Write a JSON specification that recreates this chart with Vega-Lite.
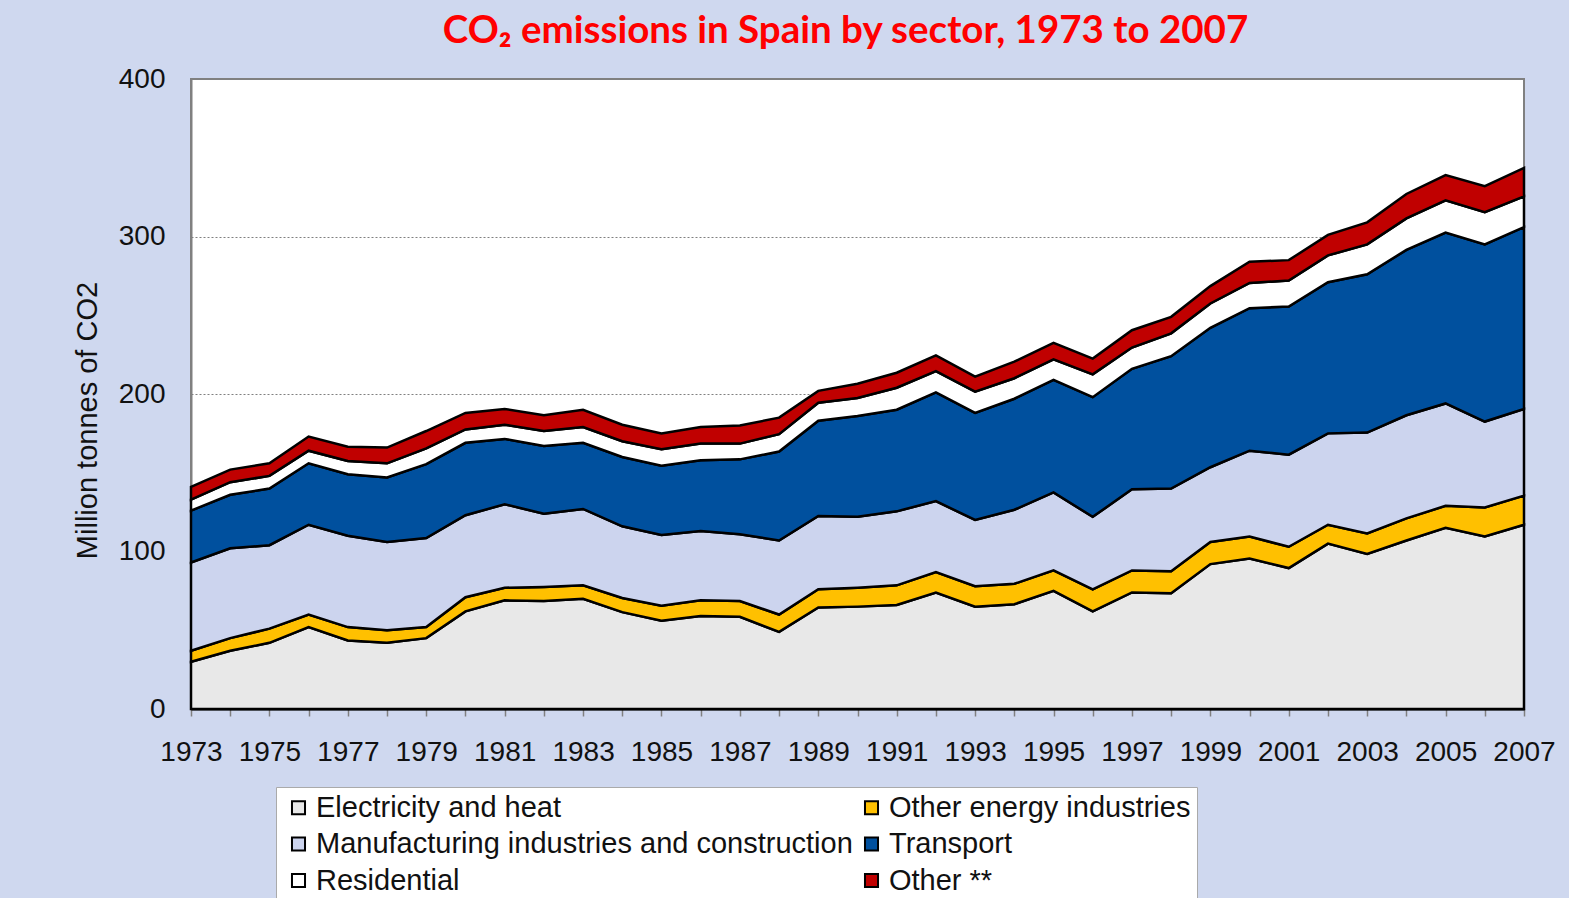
{
  "$schema": "https://vega.github.io/schema/vega-lite/v6.json",
  "autosize": {"type": "none"},
  "width": 1333,
  "height": 630,
  "padding": {"left": 191, "top": 79, "right": 45, "bottom": 189},
  "background": "#cfd8ef",
  "title": {
    "text": "CO₂ emissions in Spain by sector,  1973 to 2007",
    "font": "Lato",
    "fontSize": 38.5,
    "fontWeight": "bold",
    "color": "#ff0000",
    "anchor": "middle",
    "frame": "group",
    "baseline": "alphabetic",
    "offset": 20,
    "dx": -12,
    "dy": 36
  },
  "data": {
    "values": [
      {"year": 1973, "Electricity and heat": 30, "Other energy industries": 7, "Manufacturing industries and construction": 56, "Transport": 33, "Residential": 7, "Other **": 8},
      {"year": 1974, "Electricity and heat": 37, "Other energy industries": 8, "Manufacturing industries and construction": 57, "Transport": 34, "Residential": 8, "Other **": 8},
      {"year": 1975, "Electricity and heat": 42, "Other energy industries": 9, "Manufacturing industries and construction": 53, "Transport": 36, "Residential": 8, "Other **": 8},
      {"year": 1976, "Electricity and heat": 52, "Other energy industries": 8, "Manufacturing industries and construction": 57, "Transport": 39, "Residential": 8, "Other **": 9},
      {"year": 1977, "Electricity and heat": 43.5, "Other energy industries": 8.5, "Manufacturing industries and construction": 58, "Transport": 39, "Residential": 8.5, "Other **": 9},
      {"year": 1978, "Electricity and heat": 42, "Other energy industries": 8, "Manufacturing industries and construction": 56, "Transport": 41, "Residential": 9, "Other **": 10},
      {"year": 1979, "Electricity and heat": 45, "Other energy industries": 7, "Manufacturing industries and construction": 56.5, "Transport": 47, "Residential": 10, "Other **": 11},
      {"year": 1980, "Electricity and heat": 62, "Other energy industries": 9, "Manufacturing industries and construction": 52, "Transport": 46, "Residential": 8.5, "Other **": 10.5},
      {"year": 1981, "Electricity and heat": 69, "Other energy industries": 8, "Manufacturing industries and construction": 53, "Transport": 41.5, "Residential": 9, "Other **": 10},
      {"year": 1982, "Electricity and heat": 68.5, "Other energy industries": 9, "Manufacturing industries and construction": 46.5, "Transport": 43, "Residential": 9.5, "Other **": 10},
      {"year": 1983, "Electricity and heat": 70, "Other energy industries": 8.5, "Manufacturing industries and construction": 48.5, "Transport": 42, "Residential": 10, "Other **": 11},
      {"year": 1984, "Electricity and heat": 61.5, "Other energy industries": 9, "Manufacturing industries and construction": 45.5, "Transport": 44, "Residential": 10, "Other **": 10.5},
      {"year": 1985, "Electricity and heat": 56, "Other energy industries": 9.5, "Manufacturing industries and construction": 45, "Transport": 44, "Residential": 10.5, "Other **": 10},
      {"year": 1986, "Electricity and heat": 59, "Other energy industries": 10, "Manufacturing industries and construction": 44, "Transport": 45, "Residential": 10.5, "Other **": 10.5},
      {"year": 1987, "Electricity and heat": 58.5, "Other energy industries": 10, "Manufacturing industries and construction": 42.5, "Transport": 47.5, "Residential": 10, "Other **": 11.5},
      {"year": 1988, "Electricity and heat": 49, "Other energy industries": 11, "Manufacturing industries and construction": 47, "Transport": 56.5, "Residential": 11, "Other **": 10.5},
      {"year": 1989, "Electricity and heat": 64.5, "Other energy industries": 11.5, "Manufacturing industries and construction": 46.5, "Transport": 60.5, "Residential": 11.5, "Other **": 7.5},
      {"year": 1990, "Electricity and heat": 65, "Other energy industries": 12, "Manufacturing industries and construction": 45, "Transport": 64, "Residential": 11.5, "Other **": 9},
      {"year": 1991, "Electricity and heat": 66, "Other energy industries": 12.5, "Manufacturing industries and construction": 47, "Transport": 64.5, "Residential": 14, "Other **": 9.5},
      {"year": 1992, "Electricity and heat": 74, "Other energy industries": 13, "Manufacturing industries and construction": 45, "Transport": 69, "Residential": 13.5, "Other **": 10},
      {"year": 1993, "Electricity and heat": 65, "Other energy industries": 13, "Manufacturing industries and construction": 42, "Transport": 68, "Residential": 13.5, "Other **": 9.5},
      {"year": 1994, "Electricity and heat": 66.5, "Other energy industries": 13, "Manufacturing industries and construction": 47, "Transport": 70.5, "Residential": 13, "Other **": 10.5},
      {"year": 1995, "Electricity and heat": 75, "Other energy industries": 13, "Manufacturing industries and construction": 49.5, "Transport": 71.5, "Residential": 13, "Other **": 10.5},
      {"year": 1996, "Electricity and heat": 62, "Other energy industries": 14, "Manufacturing industries and construction": 46, "Transport": 76, "Residential": 14.5, "Other **": 10},
      {"year": 1997, "Electricity and heat": 74, "Other energy industries": 14, "Manufacturing industries and construction": 51.5, "Transport": 76.5, "Residential": 13.5, "Other **": 11},
      {"year": 1998, "Electricity and heat": 73.5, "Other energy industries": 14, "Manufacturing industries and construction": 52.5, "Transport": 84, "Residential": 14.5, "Other **": 10.5},
      {"year": 1999, "Electricity and heat": 92, "Other energy industries": 14, "Manufacturing industries and construction": 47.5, "Transport": 88.5, "Residential": 15.5, "Other **": 11},
      {"year": 2000, "Electricity and heat": 95.5, "Other energy industries": 14, "Manufacturing industries and construction": 54.5, "Transport": 90.5, "Residential": 16, "Other **": 13.5},
      {"year": 2001, "Electricity and heat": 89.5, "Other energy industries": 13.5, "Manufacturing industries and construction": 58.5, "Transport": 94, "Residential": 16.5, "Other **": 13},
      {"year": 2002, "Electricity and heat": 105, "Other energy industries": 12, "Manufacturing industries and construction": 58, "Transport": 96, "Residential": 17, "Other **": 13},
      {"year": 2003, "Electricity and heat": 98.5, "Other energy industries": 13, "Manufacturing industries and construction": 64, "Transport": 100.5, "Residential": 19, "Other **": 14},
      {"year": 2004, "Electricity and heat": 107, "Other energy industries": 14, "Manufacturing industries and construction": 65.5, "Transport": 105, "Residential": 20, "Other **": 15.5},
      {"year": 2005, "Electricity and heat": 115, "Other energy industries": 14, "Manufacturing industries and construction": 65, "Transport": 108.5, "Residential": 20.5, "Other **": 16},
      {"year": 2006, "Electricity and heat": 109.5, "Other energy industries": 18.5, "Manufacturing industries and construction": 54.5, "Transport": 112.5, "Residential": 20.5, "Other **": 16.5},
      {"year": 2007, "Electricity and heat": 117, "Other energy industries": 18.5, "Manufacturing industries and construction": 55, "Transport": 115.5, "Residential": 19.5, "Other **": 18}
    ]
  },
  "transform": [
    {"fold": ["Electricity and heat", "Other energy industries", "Manufacturing industries and construction", "Transport", "Residential", "Other **"], "as": ["sector", "value"]},
    {"calculate": "indexof(['Electricity and heat','Other energy industries','Manufacturing industries and construction','Transport','Residential','Other **'], datum.sector)", "as": "k"}
  ],
  "mark": {"type": "area", "stroke": "#000000", "strokeWidth": 2.5, "strokeJoin": "miter", "interpolate": "linear"},
  "encoding": {
    "x": {
      "field": "year",
      "type": "quantitative",
      "scale": {"domain": [1973, 2007], "nice": false, "zero": false},
      "axis": {
        "title": null,
        "values": [1973,1974,1975,1976,1977,1978,1979,1980,1981,1982,1983,1984,1985,1986,1987,1988,1989,1990,1991,1992,1993,1994,1995,1996,1997,1998,1999,2000,2001,2002,2003,2004,2005,2006,2007],
        "labelExpr": "datum.value % 2 == 1 ? '' + datum.value : ''",
        "grid": false,
        "domainColor": "#000000",
        "domainWidth": 2,
        "tickColor": "#808080",
        "tickSize": 7,
        "tickWidth": 1.5,
        "labelFont": "Liberation Sans",
        "labelFontSize": 28,
        "labelColor": "#111111",
        "labelPadding": 22,
        "labelOverlap": false,
        "labelFlush": false
      }
    },
    "y": {
      "field": "value",
      "type": "quantitative",
      "stack": "zero",
      "scale": {"domain": [0, 400], "nice": false},
      "axis": {
        "title": "Million tonnes of CO2",
        "titleFont": "Liberation Sans",
        "titleFontSize": 29,
        "titleFontWeight": "normal",
        "titleColor": "#111111",
        "titleAngle": -90,
        "titleX": -104,
        "titleY": 341,
        "titleAlign": "center",
        "titleBaseline": "middle",
        "values": [0, 100, 200, 300, 400],
        "format": "d",
        "ticks": false,
        "domainColor": "#808080",
        "domainWidth": 2,
        "grid": true,
        "gridColor": "#808080",
        "gridDash": [2, 2],
        "gridWidth": 1,
        "labelFont": "Liberation Sans",
        "labelFontSize": 28,
        "labelColor": "#111111",
        "labelPadding": 26
      }
    },
    "color": {
      "field": "sector",
      "type": "nominal",
      "scale": {
        "domain": ["Electricity and heat", "Other energy industries", "Manufacturing industries and construction", "Transport", "Residential", "Other **"],
        "range": ["#e8e8e8", "#ffc000", "#ccd4ee", "#00509e", "#ffffff", "#c00000"]
      },
      "legend": {
        "title": null,
        "orient": "none",
        "legendX": 85,
        "legendY": 708,
        "direction": "horizontal",
        "columns": 2,
        "columnPadding": 2,
        "rowPadding": 6.5,
        "padding": 6,
        "symbolOffset": 2,
        "symbolType": "square",
        "symbolSize": 170,
        "symbolStrokeColor": "#000000",
        "symbolStrokeWidth": 2,
        "symbolOpacity": 1,
        "labelFont": "Liberation Sans",
        "labelFontSize": 29,
        "labelColor": "#111111",
        "labelOffset": 3,
        "labelLimit": 800,
        "fillColor": "#ffffff",
        "strokeColor": "#aaaaaa"
      }
    },
    "order": {"field": "k", "type": "quantitative", "sort": "ascending"}
  },
  "config": {
    "view": {"stroke": "#808080", "strokeWidth": 2, "fill": "#ffffff"}
  }
}
